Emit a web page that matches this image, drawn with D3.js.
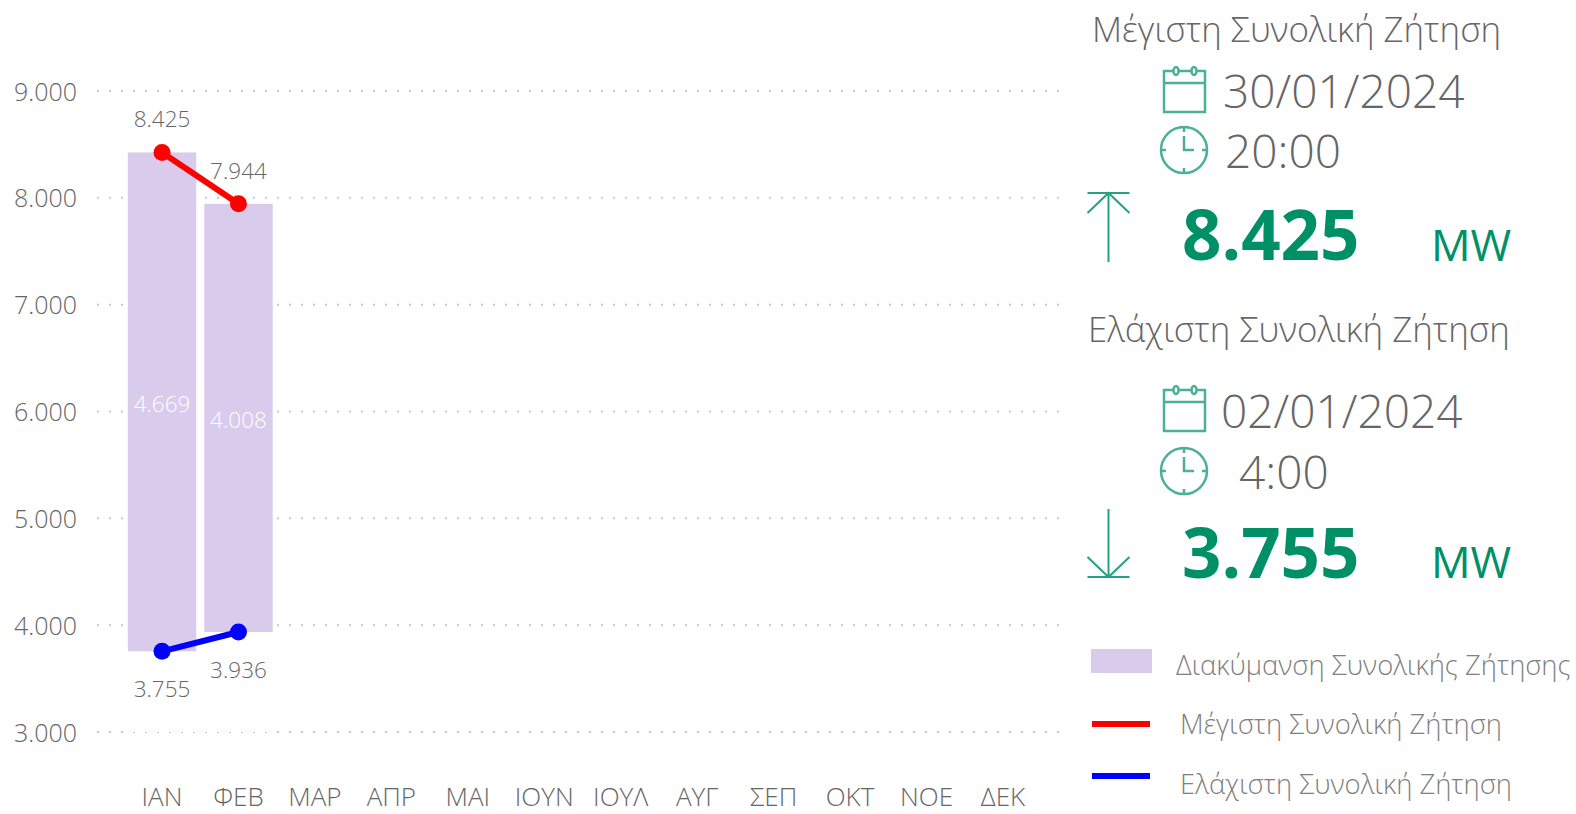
<!DOCTYPE html>
<html>
<head>
<meta charset="utf-8">
<script src="https://cdn.jsdelivr.net/npm/d3@7"></script>
<style>
html, body { margin: 0; padding: 0; background: #fff; overflow: hidden; }
svg { display: block; }
text { font-family: "Open Sans", "Noto Sans", sans-serif; font-weight: 300; }
.y.axis path, .y.axis line { display: none; }
.grid line { stroke: #c8c8c8; stroke-width: 2; stroke-dasharray: 2 10; }
</style>
</head>
<body>
<div id="chart-container"></div>
<script>
var months = ['ΙΑΝ', 'ΦΕΒ', 'ΜΑΡ', 'ΑΠΡ', 'ΜΑΙ', 'ΙΟΥΝ', 'ΙΟΥΛ', 'ΑΥΓ', 'ΣΕΠ', 'ΟΚΤ', 'ΝΟΕ', 'ΔΕΚ'];
var maxValues = [8425, 7944];
var minValues = [3755, 3936];
var rangeValues = [4669, 4008];
var yTicks = [3000, 4000, 5000, 6000, 7000, 8000, 9000];

var legendLabels = ['Διακύμανση Συνολικής Ζήτησης', 'Μέγιστη Συνολική Ζήτηση', 'Ελάχιστη Συνολική Ζήτηση'];

var width = 1576, height = 814;
var textColor = '#666', legendColor = '#808080', green = '#009068', barColor = '#d9cbec';

var svg = d3.select('#chart-container').append('svg')
	.attr('width', width)
	.attr('height', height);

var locale = d3.formatLocale({ decimal: ',', thousands: '.', grouping: [3], currency: ['', ''] });
var fmt = locale.format(',d');

var x = d3.scaleBand().domain(months).range([124, 1041]).paddingInner(0.105).paddingOuter(0.05);
var y = d3.scaleLinear().domain([3000, 9000]).range([732, 91]);

// grid first, white base bars hide it below the range
svg.append('g').attr('class', 'grid')
	.selectAll('line').data(yTicks).enter().append('line')
	.attr('x1', 97).attr('x2', 1062)
	.attr('y1', function(d) { return y(d); })
	.attr('y2', function(d) { return y(d); });

svg.append('g').attr('class', 'y axis')
	.attr('transform', 'translate(84,1)')
	.call(d3.axisLeft(y).tickValues(yTicks).tickFormat(fmt).tickSize(0).tickPadding(7))
	.selectAll('text')
	.attr('font-size', 25).style('font-size', '25px').attr('fill', textColor);

svg.append('g').selectAll('text').data(months).enter().append('text')
	.attr('x', function(d) { return x(d) + x.bandwidth() / 2; })
	.attr('y', 806)
	.attr('text-anchor', 'middle')
	.attr('font-size', 26)
	.attr('fill', textColor)
	.text(function(d) { return d; });

// stacked: white base, then the range on top
svg.append('g').selectAll('rect').data(minValues).enter().append('rect')
	.attr('x', function(d, i) { return x(months[i]); })
	.attr('width', x.bandwidth())
	.attr('y', function(d) { return y(d); })
	.attr('height', function(d) { return y(3000) - y(d); })
	.attr('fill', '#fff');

svg.append('g').selectAll('rect').data(maxValues).enter().append('rect')
	.attr('x', function(d, i) { return x(months[i]); })
	.attr('width', x.bandwidth())
	.attr('y', function(d) { return y(d); })
	.attr('height', function(d, i) { return y(minValues[i]) - y(d); })
	.attr('fill', barColor);

svg.append('g').selectAll('text').data(rangeValues).enter().append('text')
	.attr('x', function(d, i) { return x(months[i]) + x.bandwidth() / 2; })
	.attr('y', function(d, i) { return (y(maxValues[i]) + y(minValues[i])) / 2 + 10; })
	.attr('text-anchor', 'middle')
	.attr('font-size', 22.5)
	.attr('fill', '#fff')
	.text(function(d) { return fmt(d); });

function drawSeries(values, color, labelDy) {
	var cx = function(d, i) { return x(months[i]) + x.bandwidth() / 2; };
	var line = d3.line().x(cx).y(function(d) { return y(d); });
	svg.append('path').datum(values)
		.attr('d', line)
		.attr('fill', 'none')
		.attr('stroke', color)
		.attr('stroke-width', 6);
	svg.append('g').selectAll('circle').data(values).enter().append('circle')
		.attr('cx', cx)
		.attr('cy', function(d) { return y(d); })
		.attr('r', 8.5)
		.attr('fill', color);
	svg.append('g').selectAll('text').data(values).enter().append('text')
		.attr('x', cx)
		.attr('y', function(d) { return y(d) + labelDy; })
		.attr('text-anchor', 'middle')
		.attr('font-size', 22.5)
		.attr('fill', textColor)
		.text(function(d) { return fmt(d); });
}
drawSeries(maxValues, '#ff0000', -25);
drawSeries(minValues, '#0000ff', 46);

function label(px, py, size, txt, color, weight) {
	return svg.append('text')
		.attr('x', px).attr('y', py)
		.attr('font-size', size)
		.attr('fill', color || textColor)
		.style('font-weight', weight || 300)
		.text(txt);
}

function calendar(px, py) {
	var g = svg.append('g').attr('transform', 'translate(' + px + ',' + py + ')')
		.attr('fill', 'none').attr('stroke', green).attr('stroke-width', 2.5).attr('opacity', 0.7);
	g.append('rect').attr('x', 0).attr('y', 2).attr('width', 41).attr('height', 41);
	g.append('line').attr('x1', 0).attr('x2', 41).attr('y1', 14).attr('y2', 14);
	g.selectAll('ellipse').data([12, 30]).enter().append('ellipse')
		.attr('cx', function(d) { return d; }).attr('cy', 2).attr('rx', 2.5).attr('ry', 4).attr('fill', '#fff');
}

function clock(cx, cy) {
	var g = svg.append('g').attr('transform', 'translate(' + cx + ',' + cy + ')')
		.attr('fill', 'none').attr('stroke', green).attr('stroke-width', 2.5).attr('opacity', 0.7);
	g.append('circle').attr('r', 23);
	g.append('path').attr('d', 'M0,-23V-18M0,23V18M-23,0H-18M23,0H18M0,-14V0H10');
}

function arrow(cx, top, bottom, up) {
	var tip = up ? top : bottom;
	var s = up ? 1 : -1;
	svg.append('path')
		.attr('d', 'M' + cx + ',' + top + 'V' + bottom +
			'M' + (cx - 21) + ',' + tip + 'H' + (cx + 21) +
			'M' + (cx - 21) + ',' + (tip + s * 20) + 'L' + cx + ',' + tip + 'L' + (cx + 21) + ',' + (tip + s * 20))
		.attr('fill', 'none').attr('stroke', green).attr('stroke-width', 2).attr('opacity', 0.85);
}

// max panel
label(1092, 42, 34.8, legendLabels[1]);
calendar(1164, 69);
label(1223, 108, 46, '30/01/2024');
clock(1184, 150);
label(1225, 168, 46, '20:00');
arrow(1108.5, 193, 262, true);
label(1182, 260, 69, fmt(maxValues[0]), green, 700);
label(1431, 261, 44, 'MW', green, 400);

// min panel
label(1088, 342, 34.8, 'Ελάχιστη Συνολική Ζήτηση');
calendar(1164, 388);
label(1221, 428, 46, '02/01/2024');
clock(1184, 471);
label(1239, 489, 46, '4:00');
arrow(1108.5, 509, 577, false);
label(1182, 578, 69, fmt(minValues[0]), green, 700);
label(1431, 578, 44, 'MW', green, 400);

// legend
svg.append('rect').attr('x', 1091).attr('y', 649).attr('width', 61).attr('height', 24).attr('fill', barColor);
svg.append('line').attr('x1', 1092).attr('x2', 1150).attr('y1', 724).attr('y2', 724).attr('stroke', '#ff0000').attr('stroke-width', 6);
svg.append('line').attr('x1', 1092).attr('x2', 1150).attr('y1', 776).attr('y2', 776).attr('stroke', '#0000ff').attr('stroke-width', 6);
label(1176, 675, 27.4, legendLabels[0], legendColor);
label(1180, 734, 27.4, legendLabels[1], legendColor);
label(1180, 794, 27.4, legendLabels[2], legendColor);
</script>
</body>
</html>
